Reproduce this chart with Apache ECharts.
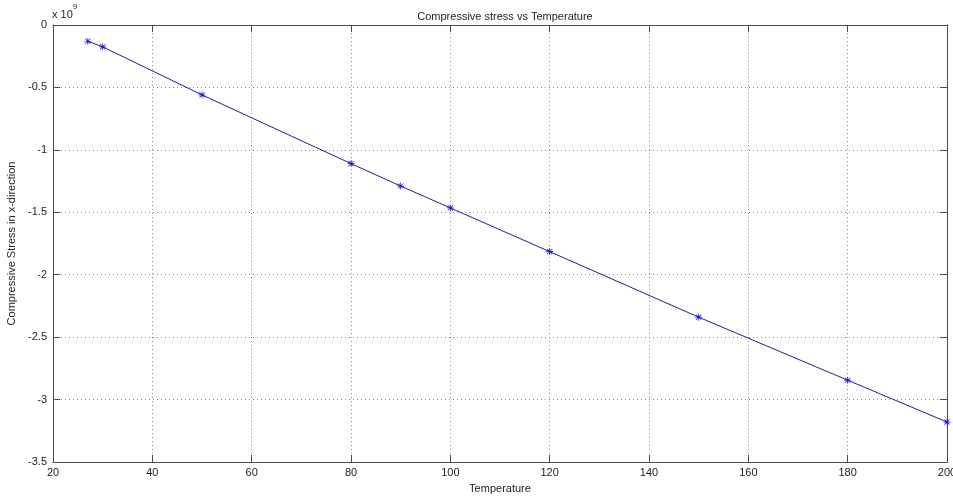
<!DOCTYPE html>
<html>
<head>
<meta charset="utf-8">
<script src="https://cdn.jsdelivr.net/npm/echarts@6/dist/echarts.min.js"></script>
<style>
  html, body { margin: 0; padding: 0; background: #fff; }
  #chart { width: 953px; height: 497px; }
</style>
</head>
<body>
<div id="chart"></div>
<script>
// Temperature samples and the computed compressive stress in x (Pa)
const temperatures = [27, 30, 50, 80, 90, 100, 120, 150, 180, 200];
const stressX = [-0.13e9, -0.175e9, -0.56e9, -1.11e9, -1.29e9, -1.465e9, -1.815e9, -2.34e9, -2.845e9, -3.18e9];

const xTicks = { min: 20, max: 200, interval: 20 };
const yTicks = { min: -3.5e9, max: 0, interval: 0.5e9 };
const yScale = 1e9;

const font = 'Liberation Sans, Arial, sans-serif';
const frameColor = '#4a4a4a';
const textColor = '#222';

// MATLAB-style asterisk marker
const asterisk = 'path://M0 4.5L10 4.5L10 5.5L0 5.5Z M4.5 0L5.5 0L5.5 10L4.5 10Z M1 1.7L1.7 1L9 8.3L8.3 9Z M8.3 1L9 1.7L1.7 9L1 8.3Z';

const chart = echarts.init(document.getElementById('chart'), null, { renderer: 'canvas' });

const gridLine = { show: true, lineStyle: { color: '#8a8a8a', type: [1, 3], width: 1 } };
const frameLine = { show: true, onZero: false, lineStyle: { color: frameColor, width: 1 } };
const innerTick = { show: true, inside: true, length: 7, lineStyle: { color: frameColor } };

chart.setOption({
  animation: false,
  backgroundColor: '#fff',
  title: {
    text: 'Compressive stress vs Temperature',
    left: 500, top: 6, textAlign: 'center',
    textStyle: { fontFamily: font, fontSize: 11, fontWeight: 'normal', color: textColor }
  },
  grid: { left: 53, right: 6, top: 25, bottom: 35, containLabel: false, outerBoundsMode: 'none' },
  xAxis: [{
    type: 'value', position: 'bottom',
    min: xTicks.min, max: xTicks.max, interval: xTicks.interval,
    name: 'Temperature', nameLocation: 'middle', nameGap: 21,
    nameTextStyle: { fontFamily: font, fontSize: 11, color: textColor },
    axisLine: frameLine, axisTick: innerTick, splitLine: gridLine,
    axisLabel: { fontFamily: font, fontSize: 11, color: textColor, margin: 5 }
  }, {
    type: 'value', position: 'top',
    min: xTicks.min, max: xTicks.max, interval: xTicks.interval,
    axisLine: frameLine, axisTick: innerTick, splitLine: { show: false },
    axisLabel: { show: false }
  }],
  yAxis: [{
    type: 'value', position: 'left',
    min: yTicks.min, max: yTicks.max, interval: yTicks.interval,
    name: 'Compressive Stress in x-direction', nameLocation: 'middle', nameGap: 36,
    nameTextStyle: { fontFamily: font, fontSize: 11, color: textColor },
    axisLine: frameLine, axisTick: innerTick, splitLine: gridLine,
    axisLabel: {
      fontFamily: font, fontSize: 11, color: textColor, margin: 6,
      formatter: v => {
        const s = v / yScale;
        return s === 0 ? '0' : String(+s.toFixed(1));
      }
    }
  }, {
    type: 'value', position: 'right',
    min: yTicks.min, max: yTicks.max, interval: yTicks.interval,
    axisLine: frameLine, axisTick: innerTick, splitLine: { show: false },
    axisLabel: { show: false }
  }],
  graphic: [{
    type: 'text', left: 52, top: 3,
    style: {
      text: '{b|x 10}{e|9}',
      rich: {
        b: { fontFamily: font, fontSize: 11, fill: textColor, padding: [6, 0, 0, 0] },
        e: { fontFamily: font, fontSize: 8, fill: textColor, verticalAlign: 'top' }
      }
    }
  }],
  series: [{
    type: 'line',
    xAxisIndex: 0, yAxisIndex: 0,
    data: temperatures.map((t, i) => [t, stressX[i]]),
    symbol: asterisk, symbolSize: 7,
    showAllSymbol: true,
    lineStyle: { color: '#1f1f8f', width: 1 },
    itemStyle: { color: '#1010d0' }
  }]
});
</script>
</body>
</html>
